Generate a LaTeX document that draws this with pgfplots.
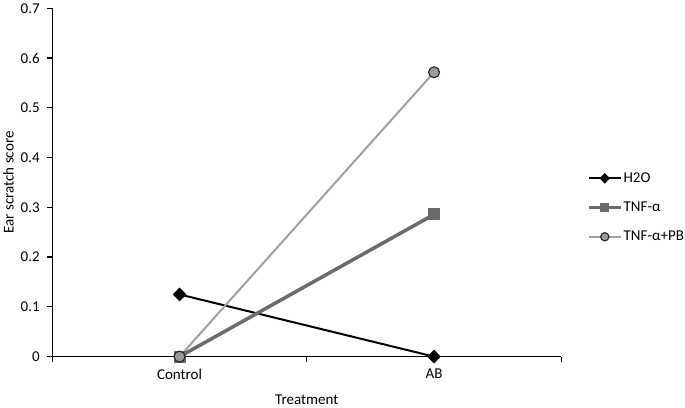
\documentclass[border=0pt]{standalone}
\usepackage{fontspec}
\setmainfont{Carlito}
\usepackage{pgfplots}
\pgfplotsset{compat=1.18}
\definecolor{midgray}{HTML}{6B6B6B}
\definecolor{lightgray}{HTML}{A0A0A0}
\definecolor{circfill}{HTML}{9A9A9A}

\begin{document}
\begin{tikzpicture}[font=\fontsize{15}{18}\selectfont]
\begin{axis}[
    scale only axis,
    width=507bp, height=347bp,
    xmin=0, xmax=2,
    ymin=0, ymax=0.7,
    ytick={0,0.1,...,0.7},
    yticklabel style={/pgf/number format/fixed, /pgf/number format/precision=1, xshift=-4bp},
    /pgf/number format/assume math mode=true,
    xtick={0,1,2},
    xticklabels={},
    extra x ticks={0.5,1.5},
    extra x tick labels={Control,AB},
    extra x tick style={major tick length=0pt, xticklabel style={yshift=-9bp}},
    axis x line=bottom,
    axis y line=left,
    axis line style={-, line width=1.4bp, black},
    tick style={line width=1.2bp, black},
    tick align=outside,
    major tick length=5bp,
    xlabel={Treatment},
    ylabel={Ear scratch score},
    xlabel style={yshift=-3bp},
    ylabel style={yshift=0bp},
    clip=false,
    legend style={draw=none, fill=none, at={(rel axis cs:1.05,0.428)}, anchor=west,
        legend cell align=left, row sep=14bp, inner sep=0pt,
        nodes={inner xsep=1bp}},
    legend image code/.code={
        \draw[mark repeat=2, mark phase=2, every mark/.append style={scale=0.75}]
            plot coordinates {(0bp,0bp) (16bp,0bp) (32bp,0bp)};
    },
]
\addplot[black, line width=2bp, mark=diamond*, mark size=6.5bp,
    mark options={fill=black, solid, line width=0.5bp, xscale=1.3}]
    coordinates {(0.5,0.125) (1.5,0)};
\addlegendentry{H2O}
\addplot[midgray, line width=3.5bp, mark=square*, mark size=5.5bp,
    mark options={fill=midgray, draw=midgray, line width=0pt}]
    coordinates {(0.5,0) (1.5,0.2857)};
\addlegendentry{TNF-α}
\addplot[lightgray, line width=2bp, mark=*, mark size=5.5bp,
    mark options={fill=circfill, draw=black!85, line width=1.1bp}]
    coordinates {(0.5,0) (1.5,0.5714)};
\addlegendentry{TNF-α+PB}
\end{axis}
\end{tikzpicture}
\end{document}
